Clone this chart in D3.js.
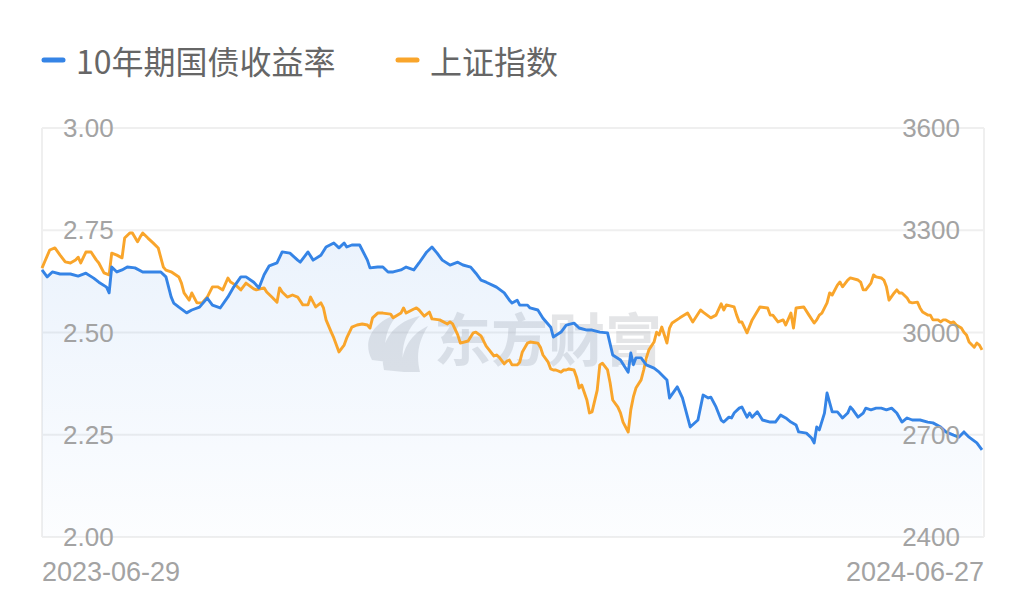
<!DOCTYPE html>
<html>
<head>
<meta charset="utf-8">
<script src="https://cdn.jsdelivr.net/npm/d3@7"></script>
<style>
  body { margin: 0; background: #fff; }
  svg { display: block; }
</style>
</head>
<body>
<div id="vis"></div>
<script>
// series: [days since 2023-06-29, value]
const startDate = "2023-06-29";
const endDate = "2024-06-27";
const seriesNames = ["10年期国债收益率", "上证指数"];
const leftTicks = [2.00, 2.25, 2.50, 2.75, 3.00];
const rightTicks = [2400, 2700, 3000, 3300, 3600];

const bondYield = [[0,2.653],[2,2.636],[4,2.648],[7,2.643],[11,2.643],[14,2.638],[17,2.645],[20,2.633],[22,2.623],[25,2.611],[26,2.597],[27,2.660],[29,2.648],[31,2.653],[33,2.660],[36,2.658],[39,2.648],[42,2.648],[46,2.648],[48,2.636],[50,2.587],[51,2.572],[53,2.562],[56,2.548],[58,2.555],[61,2.562],[64,2.584],[66,2.567],[69,2.560],[72,2.587],[74,2.609],[77,2.636],[79,2.636],[82,2.623],[84,2.609],[86,2.641],[88,2.663],[91,2.670],[93,2.697],[96,2.694],[99,2.677],[100,2.672],[103,2.697],[105,2.677],[108,2.689],[110,2.709],[113,2.719],[115,2.707],[117,2.719],[118,2.709],[120,2.714],[123,2.714],[126,2.677],[127,2.658],[130,2.660],[132,2.660],[134,2.648],[136,2.648],[139,2.653],[141,2.660],[144,2.653],[146,2.670],[149,2.697],[151,2.709],[153,2.694],[155,2.677],[158,2.665],[161,2.672],[163,2.665],[166,2.660],[168,2.645],[170,2.628],[172,2.623],[175,2.614],[176,2.611],[179,2.597],[181,2.579],[182,2.572],[184,2.579],[185,2.567],[188,2.567],[189,2.560],[192,2.555],[194,2.535],[197,2.513],[198,2.489],[201,2.501],[203,2.518],[206,2.523],[208,2.511],[211,2.506],[213,2.506],[216,2.501],[219,2.499],[221,2.445],[224,2.433],[227,2.403],[228,2.450],[229,2.421],[230,2.438],[232,2.438],[234,2.421],[237,2.413],[239,2.403],[242,2.384],[243,2.340],[246,2.367],[248,2.340],[251,2.269],[254,2.286],[256,2.347],[258,2.340],[259,2.342],[261,2.318],[263,2.286],[264,2.281],[266,2.293],[267,2.291],[268,2.303],[270,2.315],[271,2.318],[273,2.293],[274,2.303],[275,2.293],[277,2.306],[279,2.286],[282,2.281],[284,2.281],[286,2.298],[288,2.291],[290,2.281],[292,2.274],[293,2.257],[296,2.254],[298,2.242],[299,2.230],[300,2.269],[301,2.262],[303,2.303],[304,2.352],[306,2.306],[308,2.306],[310,2.291],[312,2.303],[313,2.318],[314,2.311],[316,2.293],[318,2.303],[319,2.315],[321,2.311],[323,2.315],[325,2.315],[327,2.311],[329,2.315],[331,2.303],[333,2.281],[335,2.291],[337,2.286],[340,2.286],[343,2.281],[345,2.279],[348,2.269],[350,2.257],[353,2.249],[355,2.244],[357,2.257],[359,2.244],[362,2.230],[364,2.213]];

const shIndex = [[0,3189],[1,3207],[3,3242],[5,3248],[7,3227],[9,3207],[11,3204],[13,3213],[14,3221],[15,3204],[17,3236],[19,3236],[21,3213],[22,3204],[24,3175],[26,3169],[27,3233],[29,3227],[31,3219],[32,3277],[34,3292],[35,3292],[37,3266],[38,3280],[39,3292],[41,3277],[43,3263],[45,3248],[47,3192],[48,3183],[50,3178],[53,3163],[54,3145],[55,3116],[57,3095],[58,3116],[60,3087],[62,3087],[64,3104],[66,3134],[68,3134],[70,3125],[72,3160],[73,3148],[75,3139],[77,3125],[79,3145],[82,3128],[83,3125],[86,3131],[87,3119],[89,3104],[91,3089],[92,3131],[93,3119],[95,3104],[97,3110],[99,3104],[101,3081],[103,3081],[104,3104],[105,3089],[106,3075],[108,3087],[109,3072],[110,3037],[112,3001],[113,2984],[115,2943],[117,2963],[118,2984],[120,3016],[122,3022],[124,3025],[126,3022],[127,3013],[128,3043],[130,3057],[132,3057],[135,3054],[136,3043],[139,3057],[140,3072],[141,3057],[144,3069],[145,3072],[146,3066],[148,3048],[150,3060],[151,3040],[154,3037],[157,3025],[158,3031],[159,3025],[161,2993],[162,2969],[165,2975],[167,2999],[168,3001],[170,2990],[172,2960],[175,2931],[176,2934],[177,2928],[179,2908],[180,2916],[181,2919],[182,2905],[184,2905],[185,2913],[186,2943],[188,2969],[189,2972],[192,2969],[193,2957],[194,2934],[196,2913],[197,2893],[198,2890],[199,2890],[201,2884],[202,2890],[203,2890],[204,2893],[206,2890],[207,2869],[208,2837],[209,2846],[211,2802],[212,2764],[213,2767],[215,2831],[216,2905],[217,2910],[219,2890],[220,2852],[221,2802],[223,2781],[224,2764],[225,2737],[227,2708],[228,2773],[229,2811],[230,2837],[232,2861],[233,2890],[234,2925],[235,2949],[237,2972],[238,3001],[239,2993],[240,3016],[242,2969],[243,3013],[244,3028],[247,3043],[250,3057],[252,3031],[255,3066],[256,3060],[259,3043],[261,3051],[263,3084],[264,3066],[265,3081],[268,3075],[269,3051],[270,3031],[271,3031],[273,2999],[275,3037],[278,3075],[281,3072],[282,3051],[283,3051],[285,3031],[287,3037],[288,3022],[290,3057],[291,3013],[292,3072],[295,3075],[297,3051],[299,3028],[300,3037],[301,3051],[302,3057],[304,3087],[305,3116],[306,3110],[308,3139],[309,3148],[310,3134],[312,3154],[313,3160],[316,3154],[317,3148],[318,3125],[319,3125],[321,3145],[322,3169],[323,3163],[325,3160],[326,3154],[327,3134],[328,3095],[330,3116],[331,3125],[332,3116],[333,3116],[335,3101],[336,3089],[337,3087],[339,3089],[340,3072],[341,3060],[343,3051],[344,3051],[345,3037],[347,3037],[348,3031],[349,3037],[350,3037],[352,3028],[353,3031],[354,3022],[356,3013],[357,3001],[358,2993],[359,2972],[361,2957],[362,2969],[363,2963],[364,2949]];

const blue = "#3584e6", orange = "#f9a52b";
const width = 1024, height = 605;
const margin = {top: 128, right: 40, bottom: 68, left: 42};
const plotW = width - margin.left - margin.right,
      plotH = height - margin.top - margin.bottom;

const parse = d3.timeParse("%Y-%m-%d");
const t0 = parse(startDate), t1 = parse(endDate);
const toDate = d => d3.timeDay.offset(t0, d);

const svg = d3.select("#vis").append("svg")
    .attr("width", width)
    .attr("height", height);

const x = d3.scaleTime().domain([t0, t1]).range([margin.left, margin.left + plotW - 2]);
const yL = d3.scaleLinear().domain([2, 3]).range([margin.top + plotH, margin.top]);
const yR = d3.scaleLinear().domain([2400, 3600]).range([margin.top + plotH, margin.top]);

// gradient under the yield line
const grad = svg.append("defs").append("linearGradient")
    .attr("id", "areaGrad")
    .attr("gradientUnits", "userSpaceOnUse")
    .attr("x1", 0).attr("y1", margin.top)
    .attr("x2", 0).attr("y2", margin.top + plotH);
grad.append("stop").attr("offset", "0%").attr("stop-color", blue).attr("stop-opacity", 0.13);
grad.append("stop").attr("offset", "100%").attr("stop-color", blue).attr("stop-opacity", 0.015);

// frame + grid
svg.selectAll(".grid")
  .data(leftTicks)
  .enter().append("line")
    .attr("x1", margin.left).attr("x2", margin.left + plotW)
    .attr("y1", d => yL(d)).attr("y2", d => yL(d))
    .attr("stroke", "#efefef")
    .attr("stroke-width", 2);

svg.append("line")
    .attr("x1", margin.left).attr("x2", margin.left)
    .attr("y1", margin.top).attr("y2", margin.top + plotH)
    .attr("stroke", "#efefef").attr("stroke-width", 2);
svg.append("line")
    .attr("x1", margin.left + plotW).attr("x2", margin.left + plotW)
    .attr("y1", margin.top).attr("y2", margin.top + plotH)
    .attr("stroke", "#efefef").attr("stroke-width", 2);

// watermark
const wm = svg.append("g").attr("opacity", 0.28);
wm.append("path")
    .attr("d", "M372,360 C362,342 372,322 398,314 C386,328 382,344 388,362 Z" +
               "M384,370 C378,344 392,322 420,316 C404,332 400,350 404,372 Z" +
               "M402,372 C400,352 410,334 428,326 C418,342 416,356 420,372 Z")
    .attr("fill", "#a2a6ad");
wm.append("text")
    .attr("x", 434).attr("y", 346)
    .attr("dominant-baseline", "middle")
    .attr("font-family", "Noto Sans CJK SC")
    .attr("font-weight", "bold")
    .attr("font-size", 57)
    .attr("fill", "#a2a6ad")
    .text("东方财富");

// area + lines
const area = d3.area()
    .x(d => x(toDate(d[0])))
    .y0(margin.top + plotH)
    .y1(d => yL(d[1]));
svg.append("path")
    .datum(bondYield)
    .attr("d", area)
    .attr("fill", "url(#areaGrad)");

const lineL = d3.line().x(d => x(toDate(d[0]))).y(d => yL(d[1]));
const lineR = d3.line().x(d => x(toDate(d[0]))).y(d => yR(d[1]));

svg.append("path")
    .datum(shIndex)
    .attr("d", lineR)
    .attr("fill", "none")
    .attr("stroke", orange)
    .attr("stroke-width", 2.9)
    .attr("stroke-linejoin", "round");

svg.append("path")
    .datum(bondYield)
    .attr("d", lineL)
    .attr("fill", "none")
    .attr("stroke", blue)
    .attr("stroke-width", 2.9)
    .attr("stroke-linejoin", "round");

// axis labels
const labelFont = "Liberation Sans, Arial, sans-serif";
svg.selectAll(".lt")
  .data(leftTicks)
  .enter().append("text")
    .attr("x", margin.left + 21)
    .attr("y", d => yL(d))
    .attr("dominant-baseline", "central")
    .attr("font-family", labelFont)
    .attr("font-size", 26)
    .attr("fill", "#a3a3a3")
    .text(d => d3.format(".2f")(d));

svg.selectAll(".rt")
  .data(rightTicks)
  .enter().append("text")
    .attr("x", margin.left + plotW - 24)
    .attr("y", d => yR(d))
    .attr("text-anchor", "end")
    .attr("dominant-baseline", "central")
    .attr("font-family", labelFont)
    .attr("font-size", 26)
    .attr("fill", "#a3a3a3")
    .text(d => d);

svg.selectAll(".xt")
  .data([startDate, endDate])
  .enter().append("text")
    .attr("x", (d, i) => i === 0 ? margin.left : margin.left + plotW)
    .attr("y", 572)
    .attr("text-anchor", (d, i) => i === 0 ? "start" : "end")
    .attr("dominant-baseline", "central")
    .attr("font-family", labelFont)
    .attr("font-size", 27)
    .attr("fill", "#a3a3a3")
    .text(d => d);

// legend
const legend = svg.selectAll(".legend")
  .data(seriesNames)
  .enter().append("g")
    .attr("transform", (d, i) => "translate(" + (i === 0 ? 42 : 396) + ",60)");
legend.append("line")
    .attr("x1", 2).attr("x2", 21)
    .attr("stroke", (d, i) => i === 0 ? blue : orange)
    .attr("stroke-width", 5)
    .attr("stroke-linecap", "round");
legend.append("text")
    .attr("x", 34)
    .attr("dominant-baseline", "central")
    .attr("font-family", "Noto Sans CJK SC")
    .attr("font-size", 32)
    .attr("fill", "#666")
    .text(d => d);
</script>
</body>
</html>
